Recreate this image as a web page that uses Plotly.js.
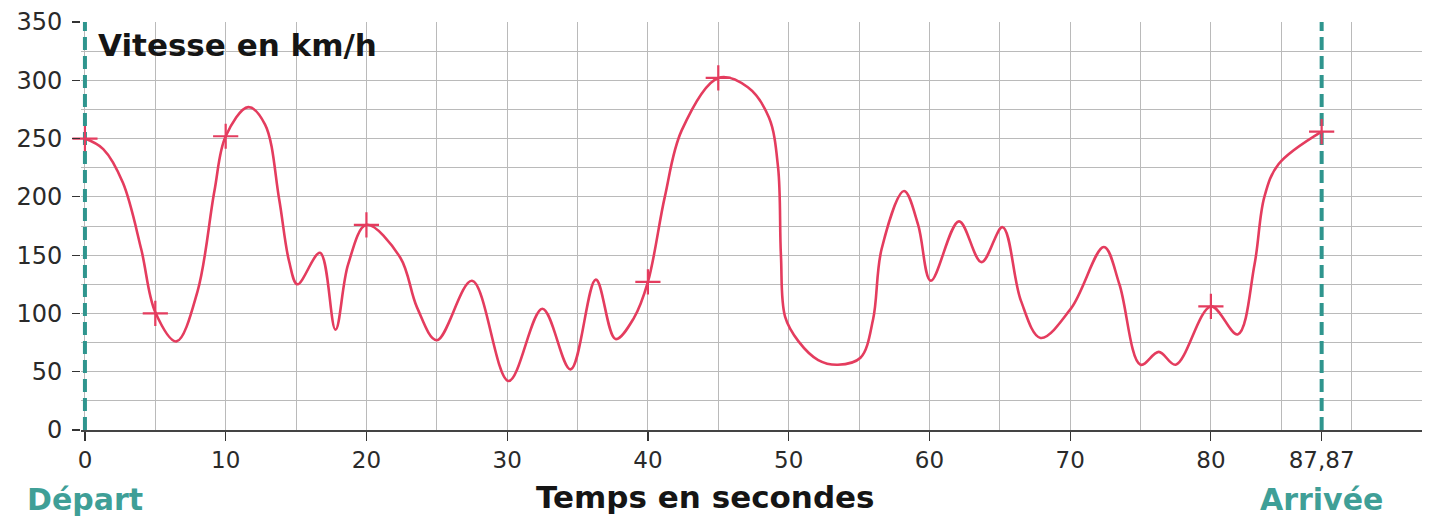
<!DOCTYPE html>
<html>
<head>
<meta charset="utf-8">
<script src="https://cdn.plot.ly/plotly-3.0.1.min.js"></script>
<style>html,body{margin:0;padding:0;background:#fff;}#chart{width:1431px;height:523px;}</style>
</head>
<body>
<div id="chart"></div>
<script>
// Speed curve (time in s, speed in km/h)
const timeS = [0, 1.3, 2.7, 4.0, 5, 6.5, 8, 9.2, 10, 11.6, 12.8, 13.8, 14.5, 15.1, 16.7, 17.8, 18.7, 20, 22.4, 23.6, 25, 27.5, 30.1, 32.5, 34.5, 36.3, 37.7, 39, 40, 41.2, 42.4, 45, 47.1, 48.6, 49.25, 49.45, 49.75, 50.7, 52.1, 53.5, 55.1, 56.0, 56.6, 58.2, 59.2, 60.1, 62.1, 63.7, 65.2, 66.5, 67.9, 70.1, 72.4, 73.5, 75, 76.3, 77.5, 80, 81.9, 83.1, 83.8, 84.8, 87.87];
const speedKmh = [250, 241, 212, 155, 101, 76, 119, 205, 252, 277, 262, 198, 145, 125, 152, 86, 142, 176, 148, 105, 77, 128, 42, 104, 52, 129, 78, 96, 127, 200, 257, 302, 294, 268, 225, 150, 97, 76, 60, 56, 62, 95, 155, 205, 176, 128, 179, 144, 174, 111, 79, 105, 157, 125, 56, 67, 56, 106, 82, 142, 200, 228, 256];

// Marked points (+)
const markT = [0, 5, 10, 20, 40, 45, 80, 87.87];
const markV = [250, 100, 252, 176, 127, 302, 106, 256];

// Start / finish times
const limitT = [0, 87.87];
const limitLabels = ['Départ', 'Arrivée'];

// Tick labels
const xTickVals = [0, 10, 20, 30, 40, 50, 60, 70, 80, 87.87];
const xTickText = ['0', '10', '20', '30', '40', '50', '60', '70', '80', '87,87'];
const yTickVals = [0, 50, 100, 150, 200, 250, 300, 350];

const RED = '#e43c5e';
const TEAL = '#2f958e';
const TEAL_TXT = '#3f9f97';
const GRID = '#bababa';
const FONT = 'DejaVu Sans';

const traces = [];
limitT.forEach(t => {
  traces.push({
    x: [t, t], y: [0, 350], mode: 'lines', xaxis: 'x', yaxis: 'y',
    line: {color: TEAL, width: 4, dash: '13px,6px'}, hoverinfo: 'skip', showlegend: false
  });
});
traces.push({
  x: timeS, y: speedKmh, mode: 'lines', xaxis: 'x', yaxis: 'y',
  line: {color: RED, width: 2.6, shape: 'spline', smoothing: 1}, showlegend: false
});
traces.push({
  x: markT, y: markV, mode: 'markers', xaxis: 'x', yaxis: 'y', cliponaxis: false,
  marker: {symbol: 'cross-thin', size: 18, line: {color: RED, width: 2.2}, color: RED}, showlegend: false
});
traces.push({x: [null], y: [null], xaxis: 'x2', yaxis: 'y', mode: 'markers', hoverinfo: 'skip', showlegend: false});

const annotations = [
  {text: 'Vitesse en km/h', xref: 'paper', yref: 'paper', x: 0.011, y: 0.944, xanchor: 'left', yanchor: 'middle',
   showarrow: false, font: {family: FONT, size: 31, color: '#151515', weight: 'bold'}},
  {text: 'Temps en secondes', xref: 'paper', yref: 'paper', x: 0.466, y: -0.163, xanchor: 'center', yanchor: 'middle',
   showarrow: false, font: {family: FONT, size: 31, color: '#151515', weight: 'bold'}}
];
limitT.forEach((t, i) => {
  annotations.push({text: limitLabels[i], xref: 'x', yref: 'paper', x: t, y: -0.17, xanchor: 'center', yanchor: 'middle',
    showarrow: false, font: {family: FONT, size: 30, color: TEAL_TXT, weight: 'bold'}});
});

const layout = {
  width: 1431, height: 523,
  margin: {l: 81, r: 9, t: 22, b: 93},
  paper_bgcolor: '#ffffff', plot_bgcolor: '#ffffff',
  showlegend: false,
  xaxis: {range: [-0.28, 95], tick0: 0, dtick: 5, showgrid: true, gridcolor: GRID, gridwidth: 1,
          showticklabels: false, ticks: '', zeroline: false, showline: false, fixedrange: true},
  xaxis2: {overlaying: 'x', anchor: 'y', side: 'bottom', range: [-0.28, 95], tickmode: 'array',
           tickvals: xTickVals, ticktext: xTickText, ticks: 'outside', ticklen: 9, tickwidth: 1.2, tickcolor: '#333',
           showgrid: false, zeroline: false, showline: true, linecolor: '#444', linewidth: 1.5,
           tickfont: {family: FONT, size: 23, color: '#2a2a2a'}, fixedrange: true},
  yaxis: {range: [0, 350], tickmode: 'array', tickvals: yTickVals, ticks: 'outside', ticklen: 8, tickwidth: 1.2,
          tickcolor: '#333', showgrid: true, gridcolor: GRID, gridwidth: 1,
          minor: {dtick: 25, tick0: 0, showgrid: true, gridcolor: GRID, gridwidth: 1, ticks: ''},
          zeroline: false, showline: false, ticklabelstandoff: 5,
          tickfont: {family: FONT, size: 24, color: '#2a2a2a'}, fixedrange: true},
  annotations: annotations
};

Plotly.newPlot('chart', traces, layout, {displayModeBar: false, staticPlot: true});
</script>
</body>
</html>
